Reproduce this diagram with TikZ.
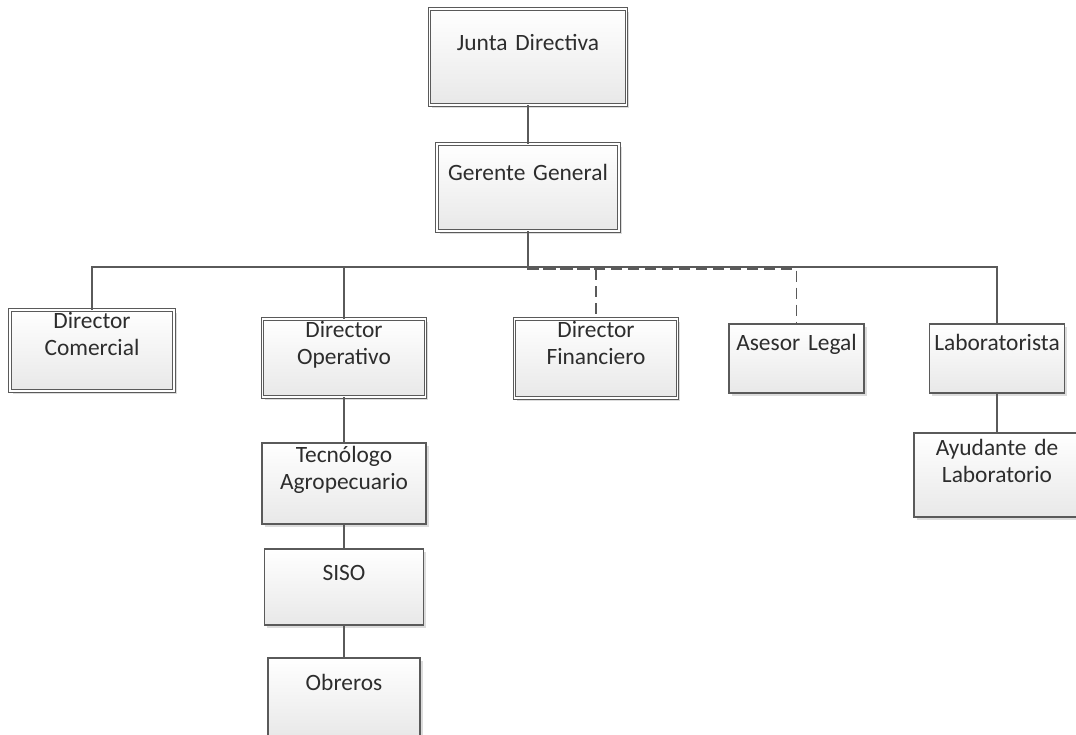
\documentclass[tikz,border=0pt]{standalone}
\usepackage{fontspec}
\setmainfont{Carlito}
\usetikzlibrary{shadows}
\definecolor{linegray}{RGB}{90,90,90}
\definecolor{textgray}{RGB}{45,45,45}
\tikzstyle{every picture}=[x=1pt, y=-1pt, font=\fontsize{23.4}{27}\selectfont]
\tikzstyle{orgbox}=[draw=linegray, line width=1.1pt, top color=white, bottom color=black!9,%
	text=textgray, align=center, inner sep=0pt, outer sep=0pt, anchor=north,%
	drop shadow={shadow xshift=2.5pt, shadow yshift=-2.5pt, fill=black!30, opacity=.45}]
\tikzstyle{dbl}=[double=white, double distance=1.5pt, line width=0.9pt]
\tikzstyle{conn}=[draw=linegray, line width=1.4pt]
\tikzstyle{dashconn}=[conn, dash pattern=on 11pt off 6pt]
\tikzset{boxsize/.style n args={3}{text width=#1pt, text height=#3pt, text depth=#2pt-#3pt}}

\begin{document}
\begin{tikzpicture}
	\path[use as bounding box] (0,0) rectangle (1076,734);
	\node[orgbox, dbl, boxsize={197}{96}{41}] (jd) at (528,9) {Junta Directiva};
	\node[orgbox, dbl, boxsize={182}{87}{36}] (gg) at (528,144) {Gerente General};
	\node[orgbox, dbl, boxsize={164}{81}{18}] (dc) at (92,310) {Director\\Comercial};
	\node[orgbox, dbl, boxsize={163}{78}{18}] (do) at (344,319) {Director\\Operativo};
	\node[orgbox, dbl, boxsize={163}{79}{18}] (df) at (596,319) {Director\\Financiero};
	\node[orgbox, boxsize={135}{69}{26}] (al) at (796.5,324) {Asesor Legal};
	\node[orgbox, boxsize={135}{69}{26}] (lab) at (997,324) {Laboratorista};
	\node[orgbox, boxsize={164}{81}{19}] (tec) at (344,443) {Tecnólogo\\Agropecuario};
	\node[orgbox, boxsize={159}{76}{31}] (siso) at (344,549) {SISO};
	\node[orgbox, boxsize={152}{80}{32}] (obr) at (344,658) {Obreros};
	\node[orgbox, boxsize={166}{84}{22}] (ayu) at (997,433) {Ayudante de\\Laboratorio};
	\coordinate (bus) at ([yshift=-36pt]gg.south);
	\coordinate (dbus) at ([yshift=-2pt]bus);
	\draw[conn] (jd) -- (gg);
	\draw[conn] (gg) -- (bus);
	\draw[conn] (dc.north) |- (bus) -| (lab.north);
	\draw[conn] (bus -| do.north) -- (do.north);
	\draw[dashconn] (bus) -- (dbus) -| (al.north);
	\draw[dashconn] (dbus) -| (df.north);
	\draw[conn] (do) -- (tec);
	\draw[conn] (tec) -- (siso);
	\draw[conn] (siso) -- (obr);
	\draw[conn] (lab) -- (ayu);
\end{tikzpicture}
\end{document}
